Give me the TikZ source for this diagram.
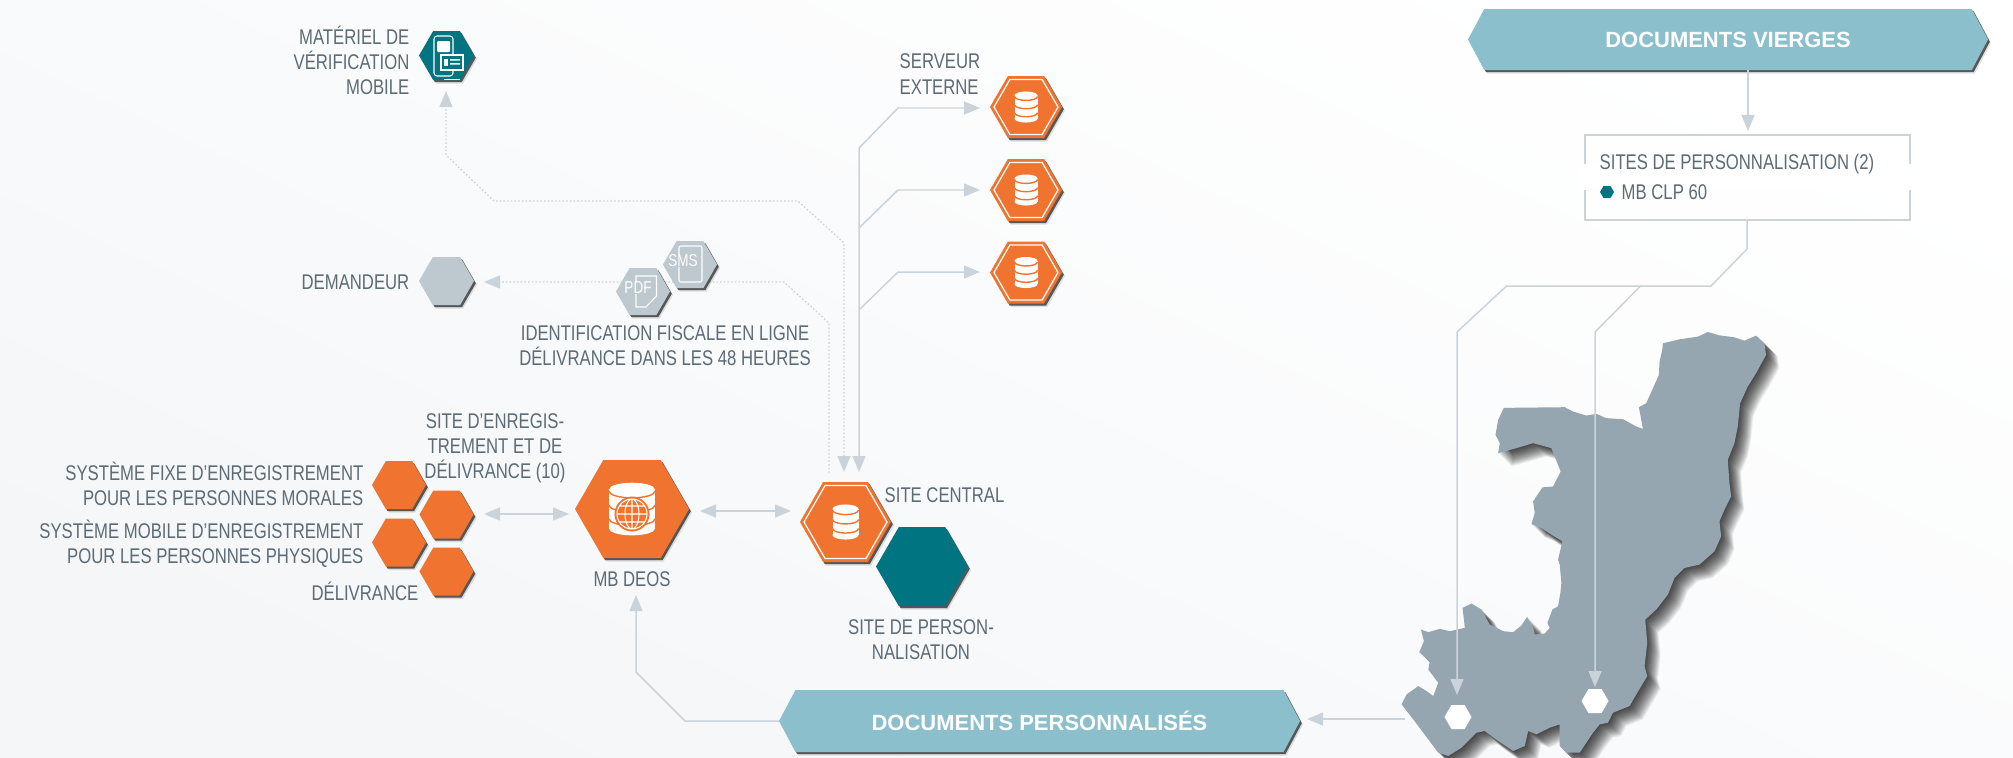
\documentclass[tikz,border=0pt]{standalone}
\usepackage{fontspec}
\setmainfont{Liberation Sans}[FakeStretch=0.785]
\newfontfamily\bannerFont{Liberation Sans}[FakeStretch=1.0]
\usetikzlibrary{arrows.meta,shapes.symbols,shadows}
\definecolor{textColor}{HTML}{5C6B75}
\definecolor{linkColor}{HTML}{CBD3DA}
\definecolor{orangeColor}{HTML}{F07330}
\definecolor{tealColor}{HTML}{007581}
\definecolor{greyHexColor}{HTML}{BDC8CF}
\definecolor{bannerColor}{HTML}{8BBFCC}
\definecolor{mapColor}{HTML}{96A6B1}
\definecolor{backColor}{HTML}{F4F6F8}
\tikzset{hexSize/.style 2 args={minimum width=(#1)*.01cm, minimum height=(#2)*.01cm}}
\tikzstyle{hexBase} = [signal, signal to=east and west, signal pointer angle=120, inner sep=0pt, outer sep=0pt]
\tikzstyle{hexShadow} = [drop shadow={shadow xshift=.03cm, shadow yshift=-.035cm, fill=black, opacity=.12}, drop shadow={shadow xshift=.018cm, shadow yshift=-.022cm, fill=black!75, opacity=.85}]
\tikzstyle{orangeHex} = [hexBase, hexShadow, fill=orangeColor]
\tikzstyle{tealHex} = [hexBase, hexShadow, fill=tealColor]
\tikzstyle{greyHex} = [hexBase, hexShadow, fill=greyHexColor]
\tikzstyle{innerHex} = [hexBase, draw=white, line width=.35pt]
\tikzstyle{whiteHex} = [hexBase, fill=white]
\tikzstyle{bannerStyle} = [hexBase, hexShadow, signal pointer angle=124, fill=bannerColor, text=white, font=\bannerFont\bfseries\fontsize{6.25}{7}\selectfont]
\tikzstyle{labelText} = [inner sep=0pt, text=textColor, font=\fontsize{6.05}{7.15}\selectfont]
\tikzstyle{smallText} = [inner sep=0pt, text=white, font=\fontsize{4.9}{5.5}\selectfont]
\tikzstyle{linkLine} = [draw=linkColor, line width=.42pt]
\tikzstyle{linkArrow} = [linkLine, -{Triangle[length=.16cm, width=.13cm]}]
\tikzstyle{linkBoth} = [linkLine, {Triangle[length=.16cm, width=.13cm]}-{Triangle[length=.16cm, width=.13cm]}]
\tikzstyle{dottedLink} = [line width=.36pt, dash pattern=on .45pt off .6pt]
\newcommand{\databaseIcon}[4]{
  \begin{scope}[shift={(#1,#2)}, xscale=#3, yscale=#4]
    \fill [white] (0,-1) ellipse [x radius=1, y radius=.35];
    \fill [white] (-1,-1) rectangle (1,1);
    \fill [white] (0,1) ellipse [x radius=1, y radius=.35];
    \foreach \band in {-.92,-.2,.5} {
      \draw [orangeColor, line width=.4pt] (-1,\band) arc [start angle=180, end angle=0, x radius=1, y radius=.35];
    }
  \end{scope}
}
\newcommand{\serverHex}[6]{
  \node [orangeHex, hexSize={#4}{#5}] (#1) at (#2,#3) {};
  \node [innerHex, hexSize={#4-8}{#5-7}] (#1Inner) at (#2,#3) {};
  \databaseIcon{#2}{#3}{#6}{#6}
}
\newcommand{\mapOutline}{(880,70) -- (930,58) -- (985,50) -- (1015,36) -- (1050,46) -- (1095,52) -- (1125,62) -- (1160,47) -- (1185,70) -- (1190,105) -- (1160,160) -- (1135,200) -- (1112,250) -- (1105,320) -- (1095,370) -- (1075,420) -- (1080,490) -- (1085,530) -- (1065,570) -- (1050,605) -- (1055,650) -- (1035,695) -- (990,735) -- (945,745) -- (915,775) -- (895,825) -- (860,870) -- (827,900) -- (833,970) -- (825,1040) -- (833,1070) -- (800,1125) -- (780,1160) -- (730,1180) -- (715,1210) -- (690,1215) -- (670,1240) -- (630,1300) -- (590,1300) -- (570,1280) -- (570,1215) -- (540,1225) -- (500,1245) -- (475,1235) -- (465,1280) -- (430,1295) -- (385,1265) -- (345,1235) -- (320,1240) -- (275,1285) -- (235,1310) -- (205,1300) -- (175,1260) -- (130,1200) -- (95,1155) -- (110,1125) -- (145,1100) -- (170,1115) -- (190,1130) -- (205,1090) -- (175,1050) -- (180,1025) -- (148,998) -- (162,965) -- (153,930) -- (175,938) -- (210,928) -- (240,935) -- (285,925) -- (278,865) -- (305,852) -- (335,870) -- (360,915) -- (400,935) -- (430,938) -- (455,918) -- (472,892) -- (490,925) -- (495,945) -- (525,942) -- (540,925) -- (533,910) -- (548,870) -- (565,860) -- (572,820) -- (575,790) -- (570,735) -- (565,720) -- (578,665) -- (545,645) -- (515,625) -- (485,613) -- (495,580) -- (490,545) -- (518,503) -- (550,500) -- (573,455) -- (545,385) -- (490,370) -- (440,385) -- (385,400) -- (390,370) -- (377,345) -- (385,300) -- (402,264) -- (585,262) -- (610,275) -- (650,287) -- (680,282) -- (710,295) -- (760,298) -- (800,320) -- (820,327) -- (808,262) -- (830,250) -- (868,165) -- (870,125) -- (878,90) -- cycle}
\begin{document}
\begin{tikzpicture}[x=.01cm, y=-.01cm]
\useasboundingbox (0,0) rectangle (2013,757);
\shade [bottom color=backColor, middle color=white, top color=white, shading angle=-25] (0,0) rectangle (2013,757);

\coordinate (mapEastEnd) at (1405,719);
\coordinate (arrowFirstSite) at (1457,695);
\coordinate (arrowSecondSite) at (1595,687);
\coordinate (centralDotA) at (844,472);
\coordinate (centralSolid) at (859,472);
\coordinate (centralDotB) at (829,473);

\begin{scope}[shift={(1370,320)}, x=.00333cm, y=-.00333cm]
  \foreach \shadowStep in {2,4,...,40} {
    \fill [black, opacity=.055, shift={(\shadowStep,\shadowStep)}] \mapOutline;
  }
  \fill [mapColor] \mapOutline;
\end{scope}

\node [bannerStyle, hexSize={520}{61}] (bannerBlank) at (1728,39.5) {DOCUMENTS VIERGES};
\node [bannerStyle, hexSize={521}{62}] (bannerPersonal) at (1039.5,721) {DOCUMENTS PERSONNALIS\'ES};

\node [draw=linkColor, line width=.42pt, minimum width=3.25cm, minimum height=.85cm, inner sep=0pt] (boxSites) at (1747.5,177.5) {};
\fill [white] (1580,164) rectangle (1915,190);
\node [labelText, anchor=west] (labelSites) at (1599,164) {SITES DE PERSONNALISATION (2)};
\node [hexBase, fill=tealColor, hexSize={14}{12}] (hexCLP) at (1607,192) {};
\node [labelText, anchor=west] (labelCLP) at (1621,192) {MB CLP 60};

\node [whiteHex, hexSize={27}{24}] (hexFirstSite) at (1458,717) {};
\node [whiteHex, hexSize={27}{24}] (hexSecondSite) at (1595,701) {};

\node [tealHex, hexSize={55}{49}] (hexMobile) at (446.5,55.5) {};
\draw [white, line width=.3pt, rounded corners=.03cm] (434,36) rectangle (453,76);
\fill [white, rounded corners=.01cm] (437,41) rectangle (450,52);
\draw [white, line width=.3pt, fill=tealColor] (441,55) rectangle (463,70);
\fill [white] (444,59) rectangle (448,66);
\fill [white] (450,59) rectangle (460,60.5) (450,63) rectangle (460,64.5);
\fill [white] (444,78.5) rectangle (460,80);
\node [labelText, anchor=east, align=right] (labelMobile) at (410,60.5) {MAT\'ERIEL DE\\V\'ERIFICATION\\MOBILE};

\node [greyHex, hexSize={55}{48}] (hexApplicant) at (446.5,281) {};
\node [labelText, anchor=east] (labelApplicant) at (410,282) {DEMANDEUR};

\draw [linkArrow, dottedLink] (centralDotB) -- (829,323) -- (784,282) -- (484,282);
\draw [linkBoth, dottedLink] (centralDotA) -- (844,243) -- (798,201) -- (494,201) -- (446,155) -- (446,91);

\node [greyHex, hexSize={54}{47}] (hexSMS) at (690,264.5) {};
\draw [white, line width=.3pt, rounded corners=.02cm] (679,246) rectangle (702,282);
\node [smallText, fill=greyHexColor] (textSMS) at (683,261) {SMS};
\node [greyHex, hexSize={54}{47}] (hexPDF) at (643,291.5) {};
\draw [white, line width=.3pt] (636,276) -- (656.5,276) -- (656.5,296) -- (646,307) -- (636,307) -- cycle;
\node [smallText, fill=greyHexColor] (textPDF) at (638,288) {PDF};
\node [labelText, align=center] (labelOnline) at (665,346) {IDENTIFICATION FISCALE EN LIGNE\\D\'ELIVRANCE DANS LES 48 HEURES};

\foreach \serverName/\serverY in {serverOne/107,serverTwo/190,serverThree/272.5} {
  \serverHex{\serverName}{1026}{\serverY}{72}{62}{11.5}
}
\node [labelText, anchor=west, align=left] (labelServer) at (899,74) {SERVEUR\\EXTERNE};

\draw [linkBoth] (centralSolid) -- (859,148) -- (898,108) -- (980,108);
\draw [linkArrow] (859,310) -- (898,272) -- (980,272);
\draw [linkArrow] (859,228) -- (898,190) -- (980,190);

\node [orangeHex, hexSize={54}{48}] (hexFixed) at (399,485) {};
\node [orangeHex, hexSize={54}{48}] (hexFixedTwo) at (446.5,514.5) {};
\node [orangeHex, hexSize={54}{48}] (hexMoving) at (399,542.5) {};
\node [orangeHex, hexSize={54}{48}] (hexIssue) at (446.5,571.5) {};
\node [labelText, anchor=east, align=right] (labelFixed) at (364,484) {SYST\`EME FIXE D'ENREGISTREMENT\\POUR LES PERSONNES MORALES};
\node [labelText, anchor=east, align=right] (labelMoving) at (364,543.5) {SYST\`EME MOBILE D'ENREGISTREMENT\\POUR LES PERSONNES PHYSIQUES};
\node [labelText, anchor=east] (labelIssue) at (419,591) {D\'ELIVRANCE};
\node [labelText, align=center] (labelEnrol) at (495,448) {SITE D'ENREGIS-\\TREMENT ET DE\\D\'ELIVRANCE (10)};

\node [orangeHex, hexSize={114}{98}] (hexDeos) at (632,509) {};
\databaseIcon{632}{509}{23}{19.5}
\node [circle, fill=orangeColor, minimum size=.35cm, inner sep=0pt] (globeDeos) at (632,514) {};
\draw [white, line width=.3pt] (globeDeos) circle [radius=15] (globeDeos) ellipse [x radius=7, y radius=15] (617,514) -- (647,514) (619,506) -- (645,506) (619,522) -- (645,522) (632,499) -- (632,529);
\node [labelText] (labelDeos) at (632,579) {MB DEOS};

\serverHex{hexCentral}{845.5}{522}{91}{80}{13}
\node [labelText, anchor=west] (labelCentral) at (884,495) {SITE CENTRAL};
\node [tealHex, hexSize={92}{79}] (hexPerso) at (922,566.5) {};
\node [labelText, align=center] (labelPerso) at (921,639.5) {SITE DE PERSON-\\NALISATION};

\draw [linkBoth] (484,514) -- (569,514);
\draw [linkBoth] (700,511) -- (791,511);
\draw [linkArrow] (bannerPersonal.west) -- (685,721) -- (636,672) -- (636,595);
\draw [linkArrow] (mapEastEnd) -- (1307,719);
\draw [linkArrow] (bannerBlank.south -| 1748,70) -- (1748,131);
\draw [linkArrow] (boxSites.south -| 1747,220) -- (1747,249) -- (1711,286) -- (1506.5,286) -- (1457,332) -- (arrowFirstSite);
\draw [linkArrow] (1640.5,286) -- (1595,332) -- (arrowSecondSite);
\end{tikzpicture}
\end{document}
